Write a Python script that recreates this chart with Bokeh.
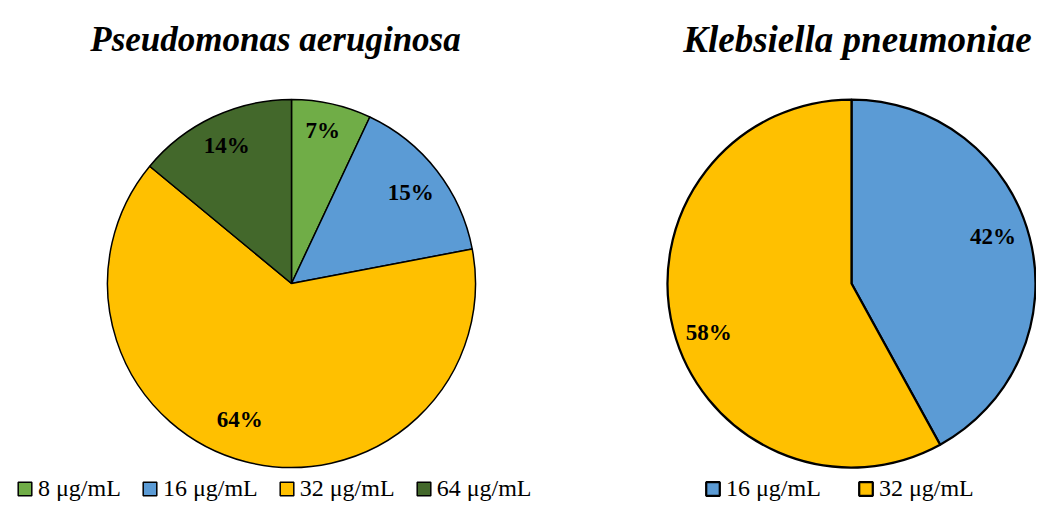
import numpy as np
from bokeh.plotting import figure
from bokeh.models import Range1d, ColumnDataSource, Legend, LegendItem, Label
from bokeh.embed import file_html
from bokeh.resources import INLINE
from bokeh.core.properties import value

# ---------------- data ----------------
titles = ["Pseudomonas aeruginosa", "Klebsiella pneumoniae"]
pa_categories = ["8 μg/mL", "16 μg/mL", "32 μg/mL", "64 μg/mL"]
pa_values = [7, 15, 64, 14]
kp_categories = ["16 μg/mL", "32 μg/mL"]
kp_values = [42, 58]

palette = {
    "8 μg/mL": "#70AD47",
    "16 μg/mL": "#5B9BD5",
    "32 μg/mL": "#FFC000",
    "64 μg/mL": "#43682B",
}

# ---------------- layout (styling only) ----------------
W, H = 1036, 502
R = 184
pies = [
    dict(cx=291, cy=219, title_x=275, title_size="35px", line_width=1.5,
         label_nudge_deg=[-1.1, 0.4, 6.5, 0.0], label_rfrac=[0.85, 0.815, 0.79, 0.826],
         legend_loc=(16, 0), legend_spacing=20),
    dict(cx=851, cy=219, title_x=857, title_size="37px", line_width=2.25,
         label_nudge_deg=[-4.0, -4.5], label_rfrac=[0.81, 0.82],
         legend_loc=(704, 0), legend_spacing=36),
]
TITLE_Y = 463
SERIF = "Liberation Serif"

p = figure(width=W, height=H, x_range=Range1d(0, W), y_range=Range1d(0, H),
           min_border=0, toolbar_location=None, output_backend="svg",
           outline_line_color=None, background_fill_color="white")
p.axis.visible = False
p.grid.visible = False

datasets = [(pa_categories, pa_values), (kp_categories, kp_values)]

for (cats, vals), cfg, title in zip(datasets, pies, titles):
    vals_arr = np.array(vals, dtype=float)
    frac = vals_arr / vals_arr.sum()
    c1 = np.cumsum(frac)
    c0 = c1 - frac
    start = np.pi / 2 - 2 * np.pi * c0
    end = np.pi / 2 - 2 * np.pi * c1
    src = ColumnDataSource(dict(
        cat=cats, val=vals, start=start, end=end,
        color=[palette[c] for c in cats],
    ))
    r = p.wedge(x=cfg["cx"], y=cfg["cy"], radius=R, start_angle="start", end_angle="end",
                direction="clock", source=src, fill_color="color",
                line_color="black", line_width=cfg["line_width"])

    # percentage labels
    mid = np.pi / 2 - 2 * np.pi * (c0 + c1) / 2 - np.deg2rad(cfg["label_nudge_deg"])
    rr = R * np.array(cfg["label_rfrac"])
    lsrc = ColumnDataSource(dict(
        x=cfg["cx"] + rr * np.cos(mid),
        y=cfg["cy"] + rr * np.sin(mid),
        text=[f"{v:.0f}%" for v in vals],
    ))
    p.text(x="x", y="y", text="text", source=lsrc, text_align="center",
           text_baseline="middle", text_font=value(SERIF), text_font_style="bold",
           text_font_size="23px", text_color="black")

    # title
    p.add_layout(Label(x=cfg["title_x"], y=TITLE_Y, text=title, text_font=SERIF,
                       text_font_style="bold italic", text_font_size=cfg["title_size"],
                       text_align="center", text_baseline="alphabetic", text_color="black"))

    # legend
    items = [LegendItem(label=c, renderers=[r], index=i) for i, c in enumerate(cats)]
    leg = Legend(items=items, orientation="horizontal", location=cfg["legend_loc"],
                 padding=0, margin=0, border_line_color=None, background_fill_alpha=0,
                 spacing=cfg["legend_spacing"], label_standoff=5,
                 glyph_width=17, glyph_height=17, label_height=17,
                 label_text_font=SERIF, label_text_font_size="24px",
                 label_text_color="black", label_text_baseline="middle")
    p.add_layout(leg, "center")

open("out.html", "w").write(file_html(p, INLINE))
